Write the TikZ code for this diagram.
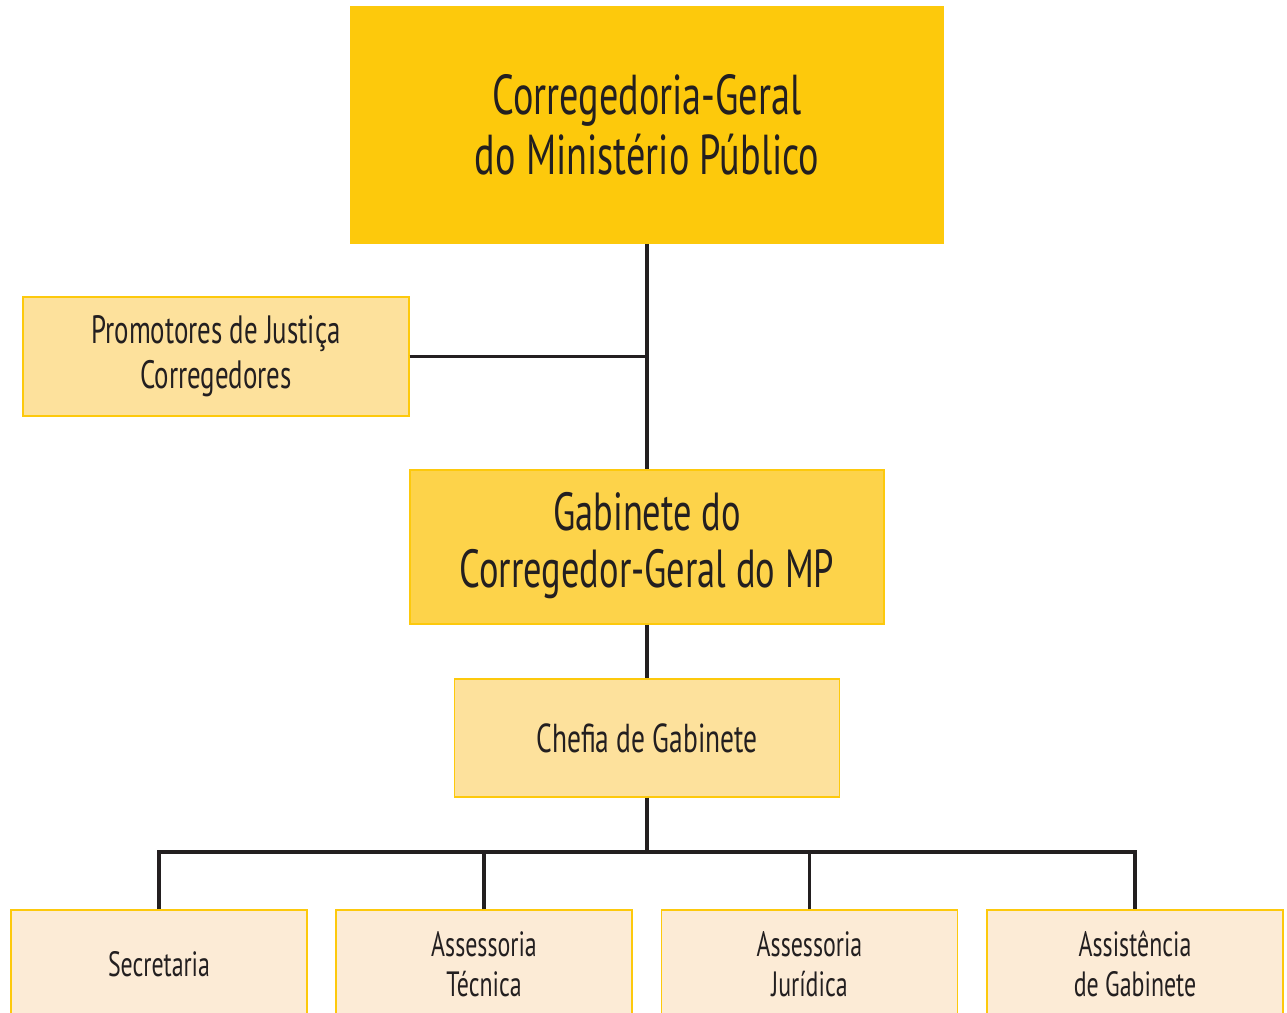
\documentclass[tikz,border=0pt]{standalone}
\usepackage{fontspec}
\setmainfont[FakeStretch=0.68]{PT Sans}
\definecolor{deep}{HTML}{FDC90C}
\definecolor{mid}{HTML}{FDD34A}
\definecolor{pale}{HTML}{FDE19C}
\definecolor{peach}{HTML}{FCEBD6}
\definecolor{ink}{HTML}{231F20}
\tikzset{
  box/.style={rectangle, draw=deep, line width=0.7pt, text=ink, align=center, inner sep=0pt},
  link/.style={draw=ink, line width=2pt},
  leaf/.style={box, fill=peach, minimum width=5.92cm, minimum height=2.16cm, font=\fontsize{20}{22.7}\selectfont},
}
\begin{document}
\begin{tikzpicture}[x=0.02cm,y=-0.02cm]
\useasboundingbox (0,0) rectangle (1287,1012);
\clip (0,0) rectangle (1287,1012);
\node[box, fill=deep, minimum width=11.84cm, minimum height=4.72cm, font=\fontsize{32}{34}\selectfont] (top) at (647,125) {Corregedoria-Geral\\do Ministério Público};
\node[box, fill=pale, minimum width=7.72cm, minimum height=2.38cm, font=\fontsize{22.5}{25.5}\selectfont] (prom) at (216,356.5) {Promotores de Justiça\\Corregedores};
\node[box, fill=mid, minimum width=9.48cm, minimum height=3.08cm, font=\fontsize{30.5}{33.5}\selectfont] (gab) at (647,547) {\raisebox{-3pt}{\begin{tabular}{@{}c@{}}Gabinete do\\[-1pt]Corregedor-Geral do MP\end{tabular}}};
\node[box, fill=pale, minimum width=7.70cm, minimum height=2.36cm, font=\fontsize{23}{25}\selectfont] (chef) at (647,738) {Chefia de Gabinete};
\node[leaf] (sec) at (159,964) {Secretaria};
\node[leaf] (tec) at (484,964) {Assessoria\\Técnica};
\node[leaf] (jur) at (809.5,964) {Assessoria\\Jurídica};
\node[leaf] (ass) at (1135,964) {Assistência\\de Gabinete};
\coordinate (bus) at (647,852);
\draw[link] (top.south) -- (gab.north);
\draw[link] (prom.east) -- (prom.east -| top.south);
\draw[link] (gab.south) -- (chef.north);
\draw[link] (chef.south) -- (bus);
\draw[link] (sec.north) -- (sec.north |- bus) -- (ass.north |- bus) -- (ass.north);
\draw[link] (tec.north) -- (tec.north |- bus);
\draw[link] (jur.north) -- (jur.north |- bus);
\end{tikzpicture}
\end{document}
